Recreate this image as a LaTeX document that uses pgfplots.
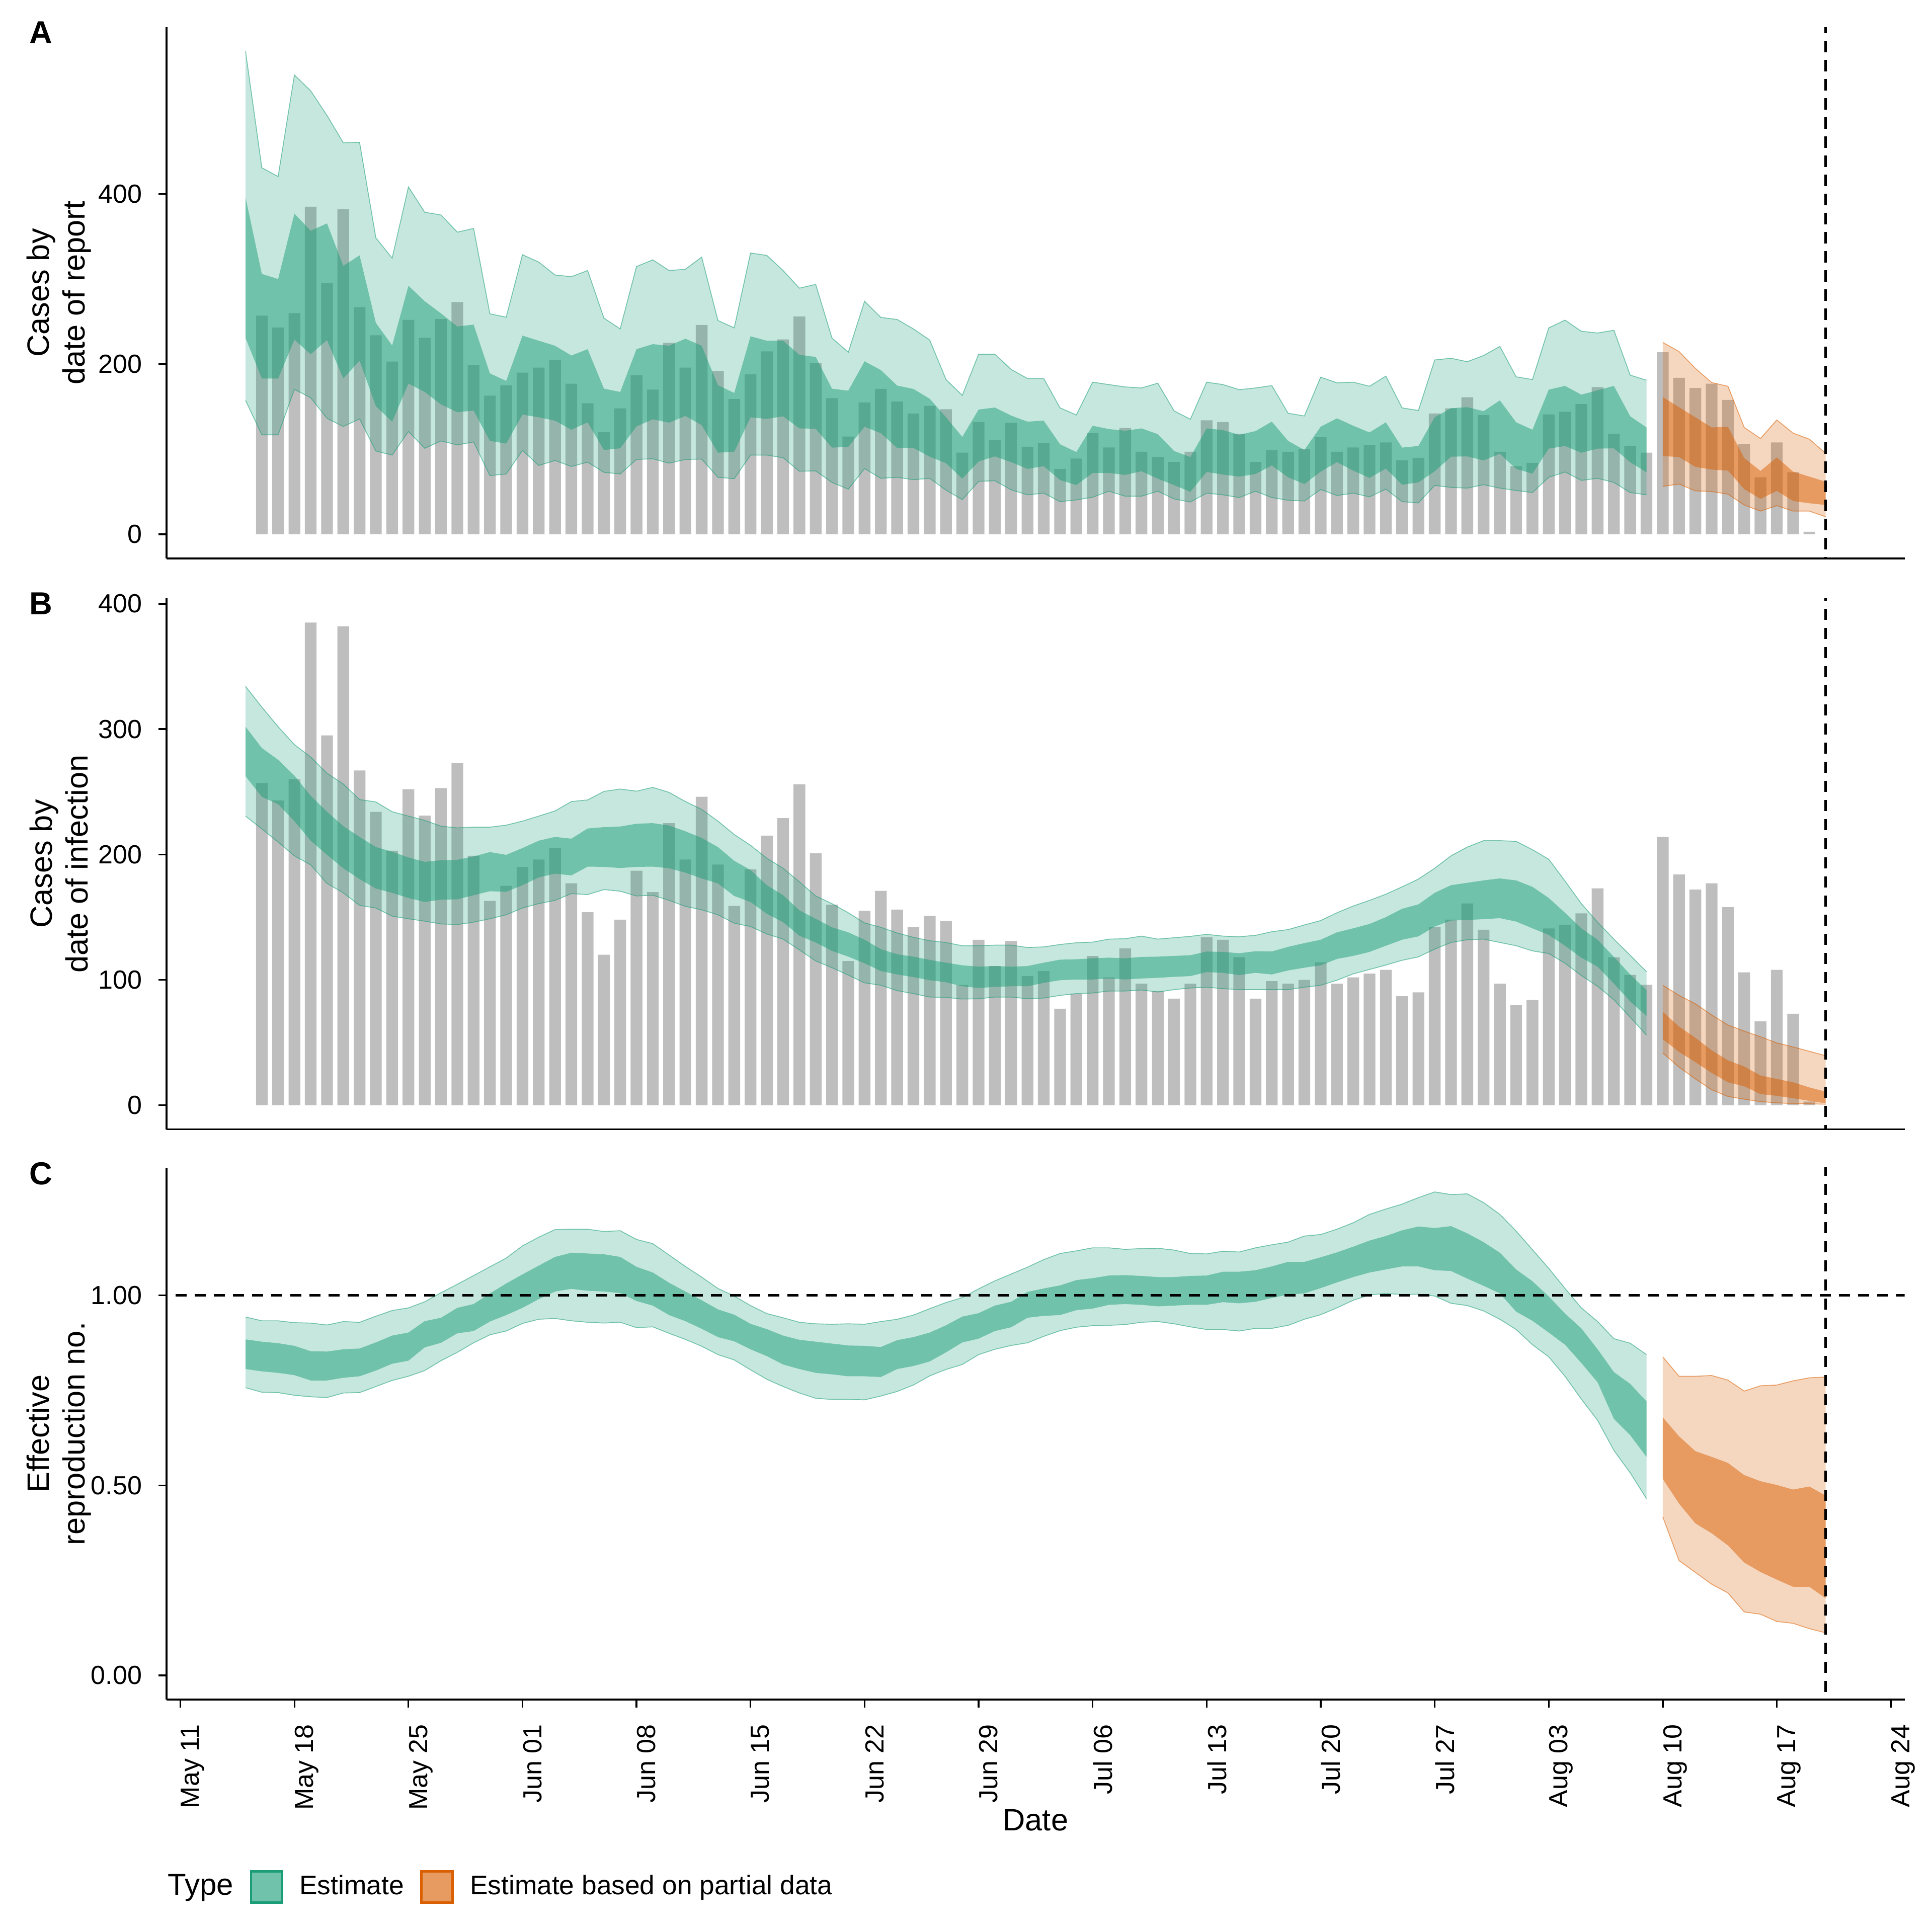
\documentclass[border=0pt]{standalone}
\usepackage{fontspec}
\setmainfont{Liberation Sans}
\usepackage{pgfplots}
\usepackage{pgfplotstable}
\pgfplotsset{compat=1.18}
\usepgfplotslibrary{fillbetween}

\definecolor{ggreen}{HTML}{1B9E77}
\definecolor{gorange}{HTML}{D95F02}
\definecolor{bargray}{HTML}{BEBEBE}

\newcommand{\tickfont}{\fontsize{7.8}{9}\selectfont}
\newcommand{\labfont}{\fontsize{9.2}{10.6}\selectfont}

\pgfplotstableread{
d v
5 257
6 243
7 260
8 385
9 295
10 382
11 267
12 234
13 203
14 252
15 231
16 253
17 273
18 199
19 163
20 175
21 190
22 196
23 205
24 177
25 154
26 120
27 148
28 187
29 170
30 225
31 196
32 246
33 192
34 159
35 188
36 215
37 229
38 256
39 201
40 160
41 115
42 155
43 171
44 156
45 142
46 151
47 147
48 96
49 132
50 111
51 131
52 103
53 107
54 77
55 89
56 119
57 102
58 125
59 97
60 91
61 85
62 97
63 134
64 132
65 118
66 85
67 99
68 97
69 100
70 114
71 97
72 102
73 105
74 108
75 87
76 90
77 142
78 148
79 161
80 140
81 97
82 80
83 84
84 141
85 144
86 153
87 173
88 118
89 104
90 96
91 214
92 184
93 172
94 177
95 158
96 106
97 67
98 108
99 73
100 3
}\bars

\pgfplotstableread{
d ou iu il ol
4 567.6 396.0 230.7 157.4
5 430.8 306.0 183.1 116.9
6 420.5 300.0 183.1 116.9
7 539.8 376.9 228.7 170.4
8 521.2 356.7 211.7 160.5
9 492.3 365.4 228.3 136.3
10 460.2 315.5 183.1 126.8
11 460.6 327.8 204.1 135.6
12 348.4 248.5 150.6 97.9
13 324.6 221.9 132.4 93.1
14 408.2 292.1 177.2 120.9
15 378.5 273.9 167.3 101.1
16 375.3 259.6 152.6 109.8
17 355.1 244.2 143.5 105.0
18 359.5 246.5 145.5 108.6
19 259.2 189.1 109.8 69.0
20 255.2 180.3 106.6 70.9
21 328.6 233.5 140.7 98.7
22 319.9 227.5 137.5 80.9
23 304.8 221.6 133.6 86.8
24 302.8 210.1 122.9 79.7
25 310.0 217.6 131.6 84.8
26 254.1 171.2 99.1 72.9
27 241.4 167.3 101.1 70.9
28 314.7 217.6 126.8 88.0
29 322.6 223.5 135.2 88.8
30 310.0 221.6 131.2 83.6
31 311.5 229.9 139.1 88.0
32 325.8 221.6 128.4 88.4
33 251.3 175.2 95.9 67.0
34 242.6 166.1 97.1 65.4
35 330.6 232.7 137.5 93.1
36 327.8 227.5 135.6 93.1
37 310.0 227.5 138.7 90.0
38 289.3 210.9 124.5 74.1
39 293.7 208.5 124.1 74.5
40 230.7 171.2 101.9 61.0
41 214.0 168.8 102.7 53.1
42 273.9 203.3 126.4 77.3
43 254.9 193.0 118.9 65.8
44 252.5 174.8 101.5 67.0
45 241.4 170.8 101.5 64.2
46 228.3 159.3 91.2 65.8
47 181.9 137.5 83.6 51.9
48 163.3 114.5 65.4 40.8
49 211.7 146.6 85.6 62.2
50 211.7 149.0 91.6 63.0
51 193.8 139.5 84.8 52.3
52 183.1 132.4 76.9 46.4
53 183.1 133.6 80.1 48.4
54 148.6 105.8 63.8 38.4
55 140.3 96.7 57.9 40.4
56 178.8 127.6 72.1 43.6
57 176.0 123.7 72.1 50.7
58 173.2 121.7 69.8 44.8
59 172.0 124.5 74.1 44.8
60 177.6 117.7 65.4 50.7
61 145.1 97.9 57.9 41.6
62 135.2 90.8 49.9 38.0
63 178.8 124.5 73.3 48.4
64 176.0 122.5 70.2 46.4
65 170.0 116.9 67.8 43.2
66 172.0 121.3 70.9 50.7
67 174.8 132.4 80.9 43.2
68 142.3 109.8 67.0 40.0
69 139.1 99.1 59.1 39.2
70 184.7 126.4 73.7 52.7
71 178.0 136.3 84.8 45.6
72 178.8 127.6 74.9 48.4
73 174.0 119.7 66.2 44.0
74 185.9 131.6 77.3 53.1
75 148.6 101.9 58.3 38.4
76 145.5 103.8 61.0 36.9
77 204.9 137.5 74.1 57.5
78 206.9 148.2 91.2 55.1
79 202.9 149.4 91.6 54.3
80 210.1 144.7 86.8 58.3
81 220.8 157.4 94.7 54.3
82 185.1 131.6 76.9 51.5
83 181.9 122.9 71.3 49.1
84 242.6 170.0 100.7 67.0
85 251.7 174.4 103.8 73.3
86 238.6 164.1 95.9 63.4
87 236.6 169.2 100.7 65.8
88 239.8 174.4 101.1 61.0
89 187.1 138.7 84.8 49.1
90 181.1 125.6 72.9 46.4
}\agreen

\pgfplotstableread{
d ou iu il ol
91 225.5 161.3 92.0 56.3
92 214.8 149.4 90.8 59.1
93 195.0 137.5 79.3 51.1
94 178.4 125.6 76.1 50.3
95 174.0 126.4 74.9 47.2
96 125.6 89.6 53.1 34.5
97 112.6 74.5 41.6 27.3
98 134.4 90.4 51.1 33.7
99 118.9 73.7 39.2 27.3
100 111.8 67.8 36.5 27.3
101 95.1 61.8 34.5 20.6
}\aorange

\pgfplotstableread{
d ou iu il ol
4 334.1 301.9 262.4 230.6
5 317.5 284.9 246.0 220.4
6 301.9 275.5 240.1 209.9
7 287.6 262.9 226.6 198.9
8 277.7 246.8 211.0 191.7
9 264.8 234.1 199.7 176.9
10 256.2 222.6 189.0 169.4
11 243.8 214.0 180.4 159.4
12 241.9 205.9 172.8 157.3
13 234.1 202.2 169.4 150.8
14 230.6 197.6 165.3 148.7
15 227.2 194.1 162.1 146.8
16 222.6 195.4 164.0 144.6
17 221.2 195.7 164.2 144.1
18 221.8 198.4 167.5 146.0
19 221.8 201.9 170.7 148.7
20 223.4 199.7 170.2 151.9
21 226.6 205.1 175.5 157.3
22 230.6 211.0 181.7 160.8
23 234.7 214.0 184.7 163.4
24 242.2 212.6 183.3 168.8
25 243.5 220.7 190.3 168.0
26 250.3 221.8 190.1 172.0
27 252.2 222.3 189.2 170.7
28 250.5 224.5 190.1 166.9
29 253.5 225.0 190.3 167.5
30 249.5 223.1 189.0 163.4
31 242.2 218.5 185.5 158.6
32 236.0 213.2 180.9 155.9
33 226.6 205.9 176.9 151.9
34 215.9 194.9 166.9 145.2
35 207.3 187.6 162.1 142.5
36 197.0 175.5 152.7 136.6
37 189.0 167.5 146.0 132.5
38 178.2 155.4 135.2 123.9
39 166.9 148.7 129.8 115.1
40 160.8 141.9 123.1 109.7
41 153.5 137.9 118.5 103.8
42 145.4 132.0 113.2 97.6
43 141.9 124.5 107.0 95.7
44 137.4 120.4 104.3 91.4
45 133.9 118.5 102.2 89.0
46 131.2 115.9 99.7 86.3
47 129.8 113.7 98.1 86.0
48 127.2 111.6 94.9 84.7
49 127.2 110.5 93.5 84.9
50 127.7 111.0 94.4 86.3
51 127.7 110.5 94.9 86.3
52 125.8 111.0 94.9 84.9
53 126.3 113.7 97.6 85.5
54 128.2 116.1 99.7 87.6
55 129.6 116.4 100.3 89.0
56 130.1 117.2 100.3 89.5
57 132.5 117.7 101.1 91.1
58 132.8 117.2 100.3 91.1
59 134.9 118.3 101.1 91.9
60 132.5 118.5 101.6 90.3
61 133.6 119.1 102.4 92.2
62 134.7 119.6 103.0 93.5
63 136.3 122.6 106.2 94.1
64 134.9 122.3 105.6 93.0
65 134.4 121.2 103.8 92.2
66 135.5 122.8 105.6 92.2
67 138.4 122.6 104.3 92.2
68 140.1 126.3 107.5 92.2
69 143.8 129.3 109.7 94.1
70 147.3 132.0 111.6 95.7
71 153.5 137.9 116.7 99.7
72 158.9 141.1 119.1 104.8
73 163.4 144.6 122.3 108.3
74 168.3 150.0 127.2 111.8
75 174.2 156.7 132.0 115.6
76 180.4 160.2 134.7 118.3
77 189.0 169.4 142.5 124.5
78 198.9 175.5 147.3 129.8
79 205.9 177.4 147.8 132.0
80 211.0 179.3 148.4 132.5
81 211.0 180.9 149.2 129.8
82 210.5 179.3 146.5 127.2
83 203.8 174.2 141.1 123.1
84 196.2 165.3 135.8 121.0
85 178.8 153.5 127.2 113.2
86 160.8 141.1 117.7 103.5
87 146.0 132.0 110.5 94.9
88 132.5 118.3 97.0 84.1
89 119.6 104.3 82.8 70.2
90 106.5 91.7 71.2 55.9
}\bgreen

\pgfplotstableread{
d ou iu il ol
91 95.7 74.5 52.7 41.7
92 87.6 62.7 42.5 30.4
93 80.9 53.8 34.4 21.0
94 72.0 43.8 25.8 12.4
95 64.0 35.8 18.3 7.0
96 59.1 30.9 15.1 4.8
97 54.6 23.7 8.9 2.9
98 49.7 21.0 7.5 1.9
99 46.5 18.3 5.6 1.3
100 43.0 14.2 3.5 1.1
101 39.5 10.8 1.6 0.8
}\borange

\pgfplotstableread{
d ou iu il ol
4 0.943 0.884 0.806 0.757
5 0.933 0.878 0.800 0.745
6 0.933 0.874 0.796 0.744
7 0.928 0.867 0.790 0.737
8 0.927 0.853 0.776 0.733
9 0.922 0.852 0.776 0.731
10 0.931 0.858 0.783 0.743
11 0.929 0.860 0.787 0.744
12 0.945 0.876 0.802 0.760
13 0.960 0.894 0.820 0.776
14 0.967 0.902 0.828 0.787
15 0.983 0.932 0.863 0.802
16 1.007 0.941 0.875 0.828
17 1.029 0.967 0.900 0.850
18 1.052 0.977 0.906 0.875
19 1.075 1.005 0.931 0.896
20 1.098 1.031 0.948 0.906
21 1.130 1.055 0.967 0.926
22 1.153 1.078 0.990 0.937
23 1.173 1.101 1.010 0.939
24 1.174 1.112 1.017 0.933
25 1.174 1.110 1.012 0.929
26 1.168 1.108 1.010 0.927
27 1.170 1.101 1.006 0.929
28 1.147 1.075 0.985 0.915
29 1.136 1.060 0.973 0.917
30 1.106 1.033 0.948 0.900
31 1.076 1.010 0.932 0.884
32 1.048 0.987 0.912 0.866
33 1.018 0.963 0.890 0.844
34 0.998 0.949 0.879 0.830
35 0.973 0.925 0.858 0.804
36 0.952 0.911 0.840 0.779
37 0.941 0.894 0.818 0.760
38 0.929 0.883 0.806 0.743
39 0.925 0.878 0.796 0.729
40 0.924 0.873 0.792 0.726
41 0.925 0.868 0.787 0.726
42 0.924 0.867 0.787 0.725
43 0.931 0.864 0.785 0.735
44 0.937 0.882 0.806 0.747
45 0.948 0.890 0.814 0.764
46 0.965 0.902 0.826 0.788
47 0.981 0.921 0.850 0.805
48 0.994 0.944 0.876 0.818
49 1.017 0.953 0.886 0.844
50 1.038 0.973 0.906 0.858
51 1.056 0.983 0.916 0.868
52 1.074 1.009 0.941 0.875
53 1.094 1.018 0.946 0.892
54 1.110 1.026 0.948 0.907
55 1.117 1.040 0.961 0.916
56 1.125 1.045 0.965 0.920
57 1.125 1.052 0.975 0.921
58 1.121 1.053 0.977 0.923
59 1.123 1.051 0.975 0.929
60 1.124 1.048 0.971 0.931
61 1.119 1.048 0.973 0.925
62 1.110 1.051 0.975 0.917
63 1.109 1.052 0.975 0.910
64 1.116 1.062 0.982 0.910
65 1.114 1.062 0.979 0.906
66 1.125 1.066 0.983 0.913
67 1.133 1.076 0.993 0.913
68 1.140 1.088 1.002 0.921
69 1.156 1.088 1.005 0.937
70 1.160 1.100 1.019 0.949
71 1.174 1.113 1.034 0.967
72 1.191 1.128 1.048 0.987
73 1.213 1.144 1.060 1.001
74 1.227 1.156 1.068 1.005
75 1.240 1.171 1.076 1.002
76 1.257 1.181 1.076 1.003
77 1.272 1.177 1.066 0.998
78 1.265 1.182 1.064 0.979
79 1.267 1.163 1.044 0.973
80 1.244 1.140 1.025 0.959
81 1.213 1.112 1.005 0.937
82 1.169 1.068 0.957 0.910
83 1.120 1.037 0.933 0.870
84 1.071 0.997 0.902 0.838
85 1.018 0.952 0.870 0.787
86 0.967 0.913 0.822 0.727
87 0.931 0.858 0.771 0.671
88 0.886 0.798 0.675 0.592
89 0.874 0.767 0.632 0.533
90 0.844 0.721 0.575 0.465
}\cgreen

\pgfplotstableread{
d ou iu il ol
91 0.838 0.679 0.517 0.417
92 0.787 0.629 0.452 0.302
93 0.787 0.590 0.400 0.271
94 0.789 0.575 0.374 0.240
95 0.777 0.559 0.342 0.217
96 0.748 0.527 0.297 0.167
97 0.762 0.511 0.272 0.161
98 0.764 0.501 0.252 0.142
99 0.775 0.489 0.233 0.137
100 0.783 0.497 0.233 0.123
101 0.785 0.473 0.203 0.112
}\corange

\pgfplotsset{
  panel/.style={
    set layers,
    scale only axis, width=518.2pt,
    xmin=-0.85, xmax=105.85,
    axis x line=bottom, axis y line=left,
    axis line style={-, line width=0.5pt, black},
    tick align=outside,
    major tick length=2.4pt,
    every tick/.style={black, line width=0.5pt},
    yticklabel style={font=\tickfont, anchor=east, inner sep=0pt, xshift=-4.75pt},
    xticklabel style={font=\tickfont},
    /pgf/number format/assume math mode=true,
    ylabel style={at={(axis description cs:-0.062,0.5)}, anchor=center, align=center, font=\labfont},
    anchor=south west,
  },
  dashline/.style={black, line width=0.8pt, dash pattern=on 3.4pt off 2.3pt, forget plot},
  barplot/.style={ybar, bar width=0.72, fill=bargray, draw=none, forget plot, on layer=axis background},
}

\newcommand{\ribbon}[3]{%
  \addplot[name path=#3ou, draw=#2, draw opacity=0.55, line width=0.25pt, forget plot] table[x=d,y=ou]{#1};
  \addplot[name path=#3ol, draw=#2, draw opacity=0.55, line width=0.25pt, forget plot] table[x=d,y=ol]{#1};
  \addplot[fill=#2, fill opacity=0.25, draw=none, forget plot] fill between[of=#3ou and #3ol];
  \addplot[name path=#3iu, draw=none, forget plot] table[x=d,y=iu]{#1};
  \addplot[name path=#3il, draw=none, forget plot] table[x=d,y=il]{#1};
  \addplot[fill=#2, fill opacity=0.5, draw=none, forget plot] fill between[of=#3iu and #3il];
}

\begin{document}
\begin{tikzpicture}

% Panel A
\begin{axis}[panel, at={(49.65pt,-166.5pt)}, height=158.4pt,
  ymin=-28.4, ymax=596, ytick={0,200,400}, yticklabels={0,200,400},
  xtick=\empty,
  ylabel={Cases by\\date of report}]
  \addplot[barplot] table[x=d,y=v]{\bars};
  \ribbon{\agreen}{ggreen}{ag}
  \ribbon{\aorange}{gorange}{ao}
  \addplot[dashline] coordinates {(101,-40) (101,700)};
\end{axis}

% Panel B
\begin{axis}[panel, at={(49.65pt,-336.7pt)}, height=158.3pt,
  ymin=-19.25, ymax=404.25, ytick={0,100,200,300,400}, yticklabels={0,100,200,300,400},
  xtick=\empty,
  ylabel={Cases by\\date of infection}]
  \addplot[barplot] table[x=d,y=v]{\bars};
  \ribbon{\bgreen}{ggreen}{bg}
  \ribbon{\borange}{gorange}{bo}
  \addplot[dashline] coordinates {(101,-40) (101,500)};
\end{axis}

% Panel C
\begin{axis}[panel, at={(49.65pt,-506.7pt)}, height=158.6pt,
  ymin=-0.0636, ymax=1.336, ytick={0,0.5,1}, yticklabels={0.00,0.50,1.00},
  xtick={0,7,...,105},
  xticklabels={May 11,May 18,May 25,Jun 01,Jun 08,Jun 15,Jun 22,Jun 29,Jul 06,Jul 13,Jul 20,Jul 27,Aug 03,Aug 10,Aug 17,Aug 24},
  xticklabel style={rotate=90, anchor=north east, inner sep=0pt},
  xticklabel shift=4.8pt,
  xlabel={Date},
  xlabel style={at={(axis description cs:0.5,-0.2264)}, anchor=center, font=\labfont},
  ylabel={Effective\\reproduction no.},
  legend columns=3,
  legend style={draw=none, fill=none, at={(axis description cs:-0.0088,-0.3525)}, anchor=west,
    inner sep=0pt, font=\fontsize{8}{9.6}\selectfont,
    nodes={inner sep=0pt},
    /tikz/every odd column/.append style={column sep=4.8pt},
    /tikz/every even column/.append style={column sep=4.9pt}},
  legend cell align=left]
  \addlegendimage{empty legend}
  \addlegendentry{\fontsize{9}{10.8}\selectfont Type}
  \addlegendimage{legend image code/.code={\draw[fill=ggreen!62.5!white, draw=ggreen, line width=0.7pt] (0.35pt,-4.65pt) rectangle (9.65pt,4.65pt);}}
  \addlegendentry{Estimate}
  \addlegendimage{legend image code/.code={\draw[fill=gorange!62.5!white, draw=gorange, line width=0.7pt] (0.35pt,-4.65pt) rectangle (9.65pt,4.65pt);}}
  \addlegendentry{Estimate based on partial data}
  \ribbon{\cgreen}{ggreen}{cg}
  \ribbon{\corange}{gorange}{co}
  \addplot[dashline] coordinates {(-5,1) (110,1)};
  \addplot[dashline] coordinates {(101,-1) (101,2)};
\end{axis}

\node[anchor=north west, inner sep=0pt, font=\bfseries\fontsize{9.5}{11}\selectfont] at (8.6pt,-6.2pt) {A};
\node[anchor=north west, inner sep=0pt, font=\bfseries\fontsize{9.5}{11}\selectfont] at (8.6pt,-176.5pt) {B};
\node[anchor=north west, inner sep=0pt, font=\bfseries\fontsize{9.5}{11}\selectfont] at (8.6pt,-346.3pt) {C};
\pgfresetboundingbox
\path (0,0) rectangle (576pt,-576pt);
\end{tikzpicture}
\end{document}
